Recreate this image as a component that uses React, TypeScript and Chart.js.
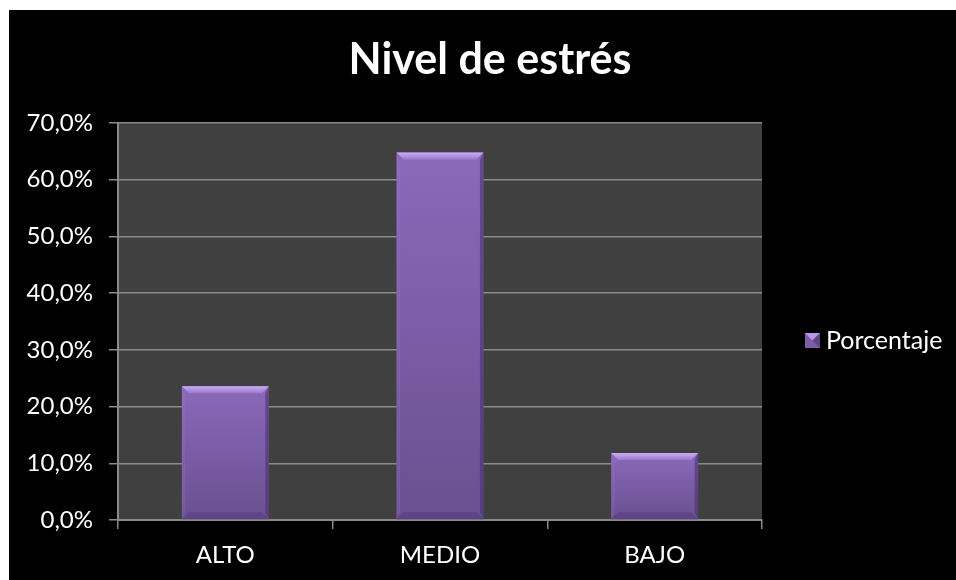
import React, { useEffect, useRef } from "react";
import { Chart, registerables } from "chart.js";

Chart.register(...registerables);

const categories = ["ALTO", "MEDIO", "BAJO"];
const seriesLabel = "Porcentaje";
const values = [23.6, 64.8, 11.8];
const yMax = 70;
const yStep = 10;
const titleText = "Nivel de estrés";

const FONT = "Lato, 'Open Sans', sans-serif";

function bevel(ctx: CanvasRenderingContext2D, left: number, top: number, right: number, bottom: number, b: number) {
  const g = ctx.createLinearGradient(0, top, 0, bottom);
  g.addColorStop(0, "#8a69ba");
  g.addColorStop(1, "#6a5090");
  ctx.fillStyle = g;
  ctx.fillRect(left, top, right - left, bottom - top);
  const bb = Math.min(b, (bottom - top) / 2);
  const gt = ctx.createLinearGradient(0, top, 0, top + bb);
  gt.addColorStop(0, "#c9acf6");
  gt.addColorStop(1, "#9a7bcc");
  ctx.fillStyle = gt;
  ctx.beginPath();
  ctx.moveTo(left, top);
  ctx.lineTo(right, top);
  ctx.lineTo(right - bb, top + bb);
  ctx.lineTo(left + bb, top + bb);
  ctx.closePath();
  ctx.fill();
  ctx.fillStyle = "rgba(70,45,110,0.55)";
  ctx.beginPath();
  ctx.moveTo(right, top);
  ctx.lineTo(right, bottom);
  ctx.lineTo(right - bb * 0.5, bottom - bb);
  ctx.lineTo(right - bb * 0.5, top + bb);
  ctx.closePath();
  ctx.fill();
  ctx.fillStyle = "rgba(150,120,200,0.25)";
  ctx.beginPath();
  ctx.moveTo(left, top);
  ctx.lineTo(left + bb * 0.5, top + bb);
  ctx.lineTo(left + bb * 0.5, bottom - bb);
  ctx.lineTo(left, bottom);
  ctx.closePath();
  ctx.fill();
  ctx.fillStyle = "rgba(70,45,110,0.35)";
  ctx.beginPath();
  ctx.moveTo(left, bottom);
  ctx.lineTo(right, bottom);
  ctx.lineTo(right - bb, bottom - bb);
  ctx.lineTo(left + bb, bottom - bb);
  ctx.closePath();
  ctx.fill();
}

const plotBg = {
  id: "plotBg",
  beforeDraw(chart: any) {
    const { ctx, chartArea } = chart;
    ctx.save();
    ctx.fillStyle = "#404040";
    ctx.fillRect(chartArea.left, chartArea.top, chartArea.right - chartArea.left, chartArea.bottom - chartArea.top);
    ctx.restore();
  },
};

const barBevel = {
  id: "barBevel",
  afterDatasetsDraw(chart: any) {
    const { ctx } = chart;
    const meta = chart.getDatasetMeta(0);
    ctx.save();
    meta.data.forEach((el: any) => {
      const p = el.getProps(["x", "y", "width", "base"], true);
      const left = p.x - p.width / 2;
      const right = p.x + p.width / 2;
      bevel(ctx, left, p.y, right, p.base, 7);
    });
    ctx.restore();
  },
};

const customLegend = {
  id: "customLegend",
  afterDraw(chart: any) {
    const { ctx } = chart;
    const label = chart.data.datasets[0].label;
    const bx = 796;
    const by = 323;
    const s = 15;
    ctx.save();
    ctx.fillStyle = "#7a5ea6";
    ctx.fillRect(bx, by, s, s);
    ctx.fillStyle = "#b897e6";
    ctx.beginPath();
    ctx.moveTo(bx, by);
    ctx.lineTo(bx + s, by);
    ctx.lineTo(bx + s / 2, by + s / 2);
    ctx.closePath();
    ctx.fill();
    ctx.fillStyle = "#5e4686";
    ctx.beginPath();
    ctx.moveTo(bx + s, by);
    ctx.lineTo(bx + s, by + s);
    ctx.lineTo(bx + s / 2, by + s / 2);
    ctx.closePath();
    ctx.fill();
    ctx.fillStyle = "#ffffff";
    ctx.font = `25px ${FONT}`;
    ctx.textBaseline = "middle";
    ctx.textAlign = "left";
    ctx.fillText(label, 817, by + s / 2);
    ctx.restore();
  },
};

export default function App() {
  const ref = useRef<HTMLCanvasElement>(null);
  useEffect(() => {
    document.body.style.margin = "0";
    document.body.style.overflow = "hidden";
    const chart = new Chart(ref.current!, {
      type: "bar",
      data: {
        labels: categories,
        datasets: [
          {
            label: seriesLabel,
            data: values,
            backgroundColor: "rgba(0,0,0,0)",
            borderWidth: 0,
            barPercentage: 0.405,
            categoryPercentage: 1,
          },
        ],
      },
      options: {
        responsive: false,
        animation: false,
        devicePixelRatio: 1,
        layout: { padding: { top: 0, left: 0, right: 0, bottom: 10 } },
        plugins: {
          legend: { display: false },
          tooltip: { enabled: false },
          title: {
            display: true,
            text: titleText,
            color: "#ffffff",
            font: { family: FONT, size: 43, weight: "bold" },
            padding: { top: 24.4, bottom: 37 },
          },
        },
        scales: {
          x: {
            grid: {
              display: true,
              drawOnChartArea: false,
              drawTicks: true,
              tickLength: 9,
              color: "#8a8a8a",
              lineWidth: 1.5,
              offset: true,
            },
            border: { display: true, color: "#8a8a8a", width: 2 },
            ticks: {
              color: "#ffffff",
              font: { family: FONT, size: 24 },
              padding: 12,
            },
            afterFit: (s: any) => {
              s.height = 50;
            },
          },
          y: {
            min: 0,
            max: yMax,
            grid: {
              color: "#8a8a8a",
              lineWidth: 1.5,
              tickLength: 9,
            },
            border: { display: true, color: "#8a8a8a", width: 2 },
            ticks: {
              stepSize: yStep,
              color: "#ffffff",
              font: { family: FONT, size: 24 },
              padding: 16,
              callback: (v: any) => `${Number(v).toFixed(1).replace(".", ",")}%`,
            },
            afterFit: (s: any) => {
              s.width = 109;
            },
          },
          spacer: {
            type: "linear",
            position: "right",
            display: true,
            grid: { display: false, drawTicks: false },
            border: { display: false },
            ticks: { display: false },
            afterFit: (s: any) => {
              s.width = 209;
            },
          },
        },
      },
      plugins: [plotBg, barBevel, customLegend],
    });
    return () => chart.destroy();
  }, []);
  return (
    <div
      style={{
        position: "absolute",
        left: 9,
        top: 10,
        width: 947,
        height: 570,
        overflow: "hidden",
        background: "#000000",
      }}
    >
      <canvas ref={ref} width={962} height={570} style={{ display: "block" }} />
    </div>
  );
}
